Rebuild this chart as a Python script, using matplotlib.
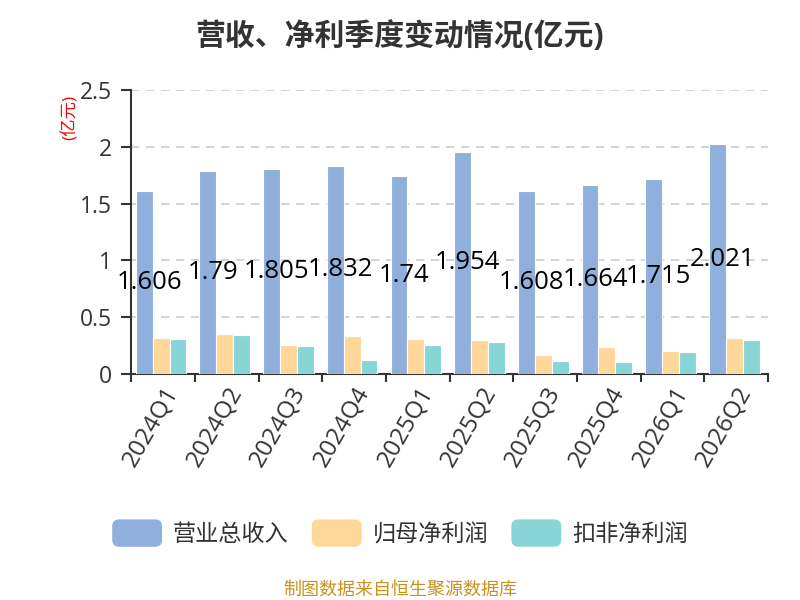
import numpy as np
import matplotlib
matplotlib.use("Agg")
import matplotlib.pyplot as plt
from matplotlib.patches import FancyBboxPatch, Patch
from matplotlib.legend_handler import HandlerPatch

plt.rcParams['font.family'] = ['Open Sans', 'Noto Sans CJK SC', 'DejaVu Sans']

# 季度與數據（億元）
quarters = ["2024Q1", "2024Q2", "2024Q3", "2024Q4", "2025Q1",
            "2025Q2", "2025Q3", "2025Q4", "2026Q1", "2026Q2"]
revenue = [1.606, 1.79, 1.805, 1.832, 1.74, 1.954, 1.608, 1.664, 1.715, 2.021]
net_profit = [0.314, 0.355, 0.253, 0.337, 0.305, 0.302, 0.166, 0.238, 0.198, 0.311]
deducted_profit = [0.308, 0.346, 0.244, 0.122, 0.256, 0.279, 0.113, 0.105, 0.195, 0.302]

series_names = ["营业总收入", "归母净利润", "扣非净利润"]
colors = ["#8FAFDC", "#FFD899", "#88D5D8"]


class RoundHandler(HandlerPatch):
    # 圓角圖例方塊
    def create_artists(self, legend, orig_handle, xdescent, ydescent,
                       width, height, fontsize, trans):
        p = FancyBboxPatch((-xdescent, -ydescent - 4), width, height + 8,
                           boxstyle="round,pad=0,rounding_size=5",
                           facecolor=orig_handle.get_facecolor(),
                           edgecolor="none", transform=trans)
        return [p]


fig = plt.figure(figsize=(8, 6), dpi=100)
ax = fig.add_axes([0.164, 0.377, 0.796, 0.473])

x = np.arange(len(quarters))
w = 0.265
for i, (vals, c) in enumerate(zip([revenue, net_profit, deducted_profit], colors)):
    ax.bar(x + (i - 1) * w - 0.03, vals, width=w, color=c, edgecolor="white",
           linewidth=0.8, zorder=3)

# 營收數值標籤（置於柱中間）
for xi, v in zip(x, revenue):
    ax.text(xi - w + 0.05, v / 2, f"{v:g}", ha="center", va="center", fontsize=18.5,
            color="black", zorder=5, clip_on=False)

ax.set_xlim(-0.5, len(quarters) - 0.5)
ax.set_ylim(0, 2.5)
ax.set_yticks([0, 0.5, 1, 1.5, 2, 2.5])
ax.set_yticklabels(["0", "0.5", "1", "1.5", "2", "2.5"])
ax.set_xticks(np.arange(len(quarters) + 1) - 0.5, minor=False)
ax.set_xticklabels([])
ax.set_xticks(x, minor=True)
ax.set_xticklabels(quarters, minor=True, rotation=60, ha="right",
                   rotation_mode="anchor", fontsize=17.5, color="#333333")
ax.tick_params(axis="x", which="minor", length=0, pad=6)
ax.tick_params(axis="x", which="major", length=6, width=1.5, color="#333333")
ax.tick_params(axis="y", length=7, width=1.5, color="#333333", pad=7,
               labelsize=16.5, labelcolor="#333333")

ax.grid(axis="y", linestyle=(0, (5, 4)), color="#CCCCCC", linewidth=1.2, zorder=0)
for s in ["top", "right"]:
    ax.spines[s].set_visible(False)
for s in ["left", "bottom"]:
    ax.spines[s].set_linewidth(1.5)
    ax.spines[s].set_color("#333333")

fig.text(0.088, 0.804, "(亿元)", rotation=90, color="red", fontsize=12.5,
         ha="center", va="center")

fig.suptitle("营收、净利季度变动情况(亿元)", x=0.5, y=0.965, fontsize=21.5,
             fontweight="bold", color="#333333")

handles = [Patch(facecolor=c) for c in colors]
fig.legend(handles=handles, labels=series_names, loc="center", ncol=3,
           bbox_to_anchor=(0.5, 0.108), frameon=False, fontsize=16.7,
           handler_map={Patch: RoundHandler()},
           handlelength=2.15, handletextpad=0.47, columnspacing=1.0,
           labelcolor="#333333")

fig.text(0.5, 0.017, "制图数据来自恒生聚源数据库", ha="center", va="center",
         fontsize=13, color="#C9921E")

fig.savefig("out.png", dpi=100)
